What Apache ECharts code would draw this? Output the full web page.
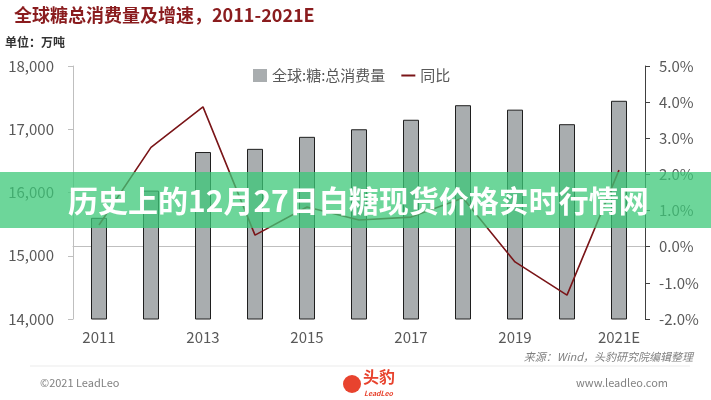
<!DOCTYPE html>
<html>
<head>
<meta charset="utf-8">
<script src="https://cdn.jsdelivr.net/npm/echarts@6/dist/echarts.min.js"></script>
<style>
  html, body { margin: 0; padding: 0; background: #fff; }
  #chart { width: 711px; height: 400px; }
</style>
</head>
<body>
<div id="chart"></div>
<script>
// 数据
const years = ["2011", "2012", "2013", "2014", "2015", "2016", "2017", "2018", "2019", "2020", "2021E"];
const consumption = [15600, 16030, 16640, 16690, 16880, 17000, 17150, 17380, 17310, 17080, 17450]; // 万吨
const yoy = [0.6, 2.75, 3.87, 0.32, 1.1, 0.74, 0.82, 1.35, -0.42, -1.34, 2.12]; // %
const seriesNames = ["全球:糖:总消费量", "同比"];

const font = "'Noto Sans CJK SC', 'Noto Sans', sans-serif";
const chart = echarts.init(document.getElementById("chart"));

const option = {
  backgroundColor: "#fff",
  textStyle: { fontFamily: font },
  grid: { left: 73, right: 66, top: 66, bottom: 81 },
  legend: {
    left: 248,
    top: 63,
    itemWidth: 14,
    itemHeight: 13,
    itemGap: 16,
    textStyle: { fontSize: 15, color: "#595959", fontFamily: font },
    data: [
      { name: seriesNames[0], icon: "rect", itemStyle: { borderWidth: 0, color: "#a9adaf" } },
      { name: seriesNames[1], icon: "path://M0,0 L14,0 L14,2 L0,2 Z", itemStyle: { color: "#7a1518" } },
    ],
  },
  xAxis: {
    type: "category",
    data: years,
    axisLine: { lineStyle: { color: "#bfbfbf" } },
    axisTick: { show: false },
    axisLabel: { interval: 1, fontSize: 15, color: "#595959", margin: 11 },
  },
  yAxis: [
    {
      type: "value",
      min: 14000,
      max: 18000,
      interval: 1000,
      axisLine: { show: true, lineStyle: { color: "#bfbfbf" } },
      axisTick: { show: true, length: 5, lineStyle: { color: "#bfbfbf" } },
      splitLine: { show: false },
      axisLabel: { fontSize: 15, color: "#595959", margin: 19 },
    },
    {
      type: "value",
      min: -2,
      max: 5,
      interval: 1,
      axisLine: { show: true, lineStyle: { color: "#404040" } },
      axisTick: { show: true, length: 5, lineStyle: { color: "#404040" } },
      splitLine: { show: false },
      axisLabel: {
        fontSize: 15,
        color: "#595959",
        margin: 14,
        formatter: (v) => v.toFixed(1) + "%",
      },
    },
  ],
  series: [
    {
      name: seriesNames[0],
      type: "bar",
      data: consumption,
      barWidth: 16,
      itemStyle: { color: "#a9adaf", borderColor: "#1f1f1f", borderWidth: 1 },
      z: 2,
    },
    {
      name: seriesNames[1],
      type: "line",
      yAxisIndex: 1,
      data: yoy,
      symbol: "none",
      lineStyle: { color: "#7a1518", width: 1.6 },
      itemStyle: { color: "#7a1518" },
      z: 3,
    },
  ],
  graphic: [
    // 标题
    {
      type: "text",
      left: 14,
      top: 6,
      style: {
        text: "全球糖总消费量及增速，2011-2021E",
        fontSize: 18,
        fontWeight: "bold",
        fill: "#8a1c1e",
        fontFamily: font,
      },
    },
    {
      type: "text",
      left: 5,
      top: 36,
      style: {
        text: "单位：万吨",
        fontSize: 12,
        fontWeight: "bold",
        fill: "#333",
        fontFamily: font,
      },
    },
    // 横幅
    {
      type: "rect",
      shape: { x: 0, y: 172, width: 711, height: 56 },
      style: { fill: "rgba(60,200,120,0.75)" },
      z: 100,
    },
    {
      type: "text",
      x: 68,
      y: 201,
      style: {
        text: "历史上的12月27日白糖现货价格实时行情网",
        fontSize: 30,
        fontWeight: "bold",
        fill: "#fff",
        verticalAlign: "middle",
        fontFamily: font,
      },
      z: 101,
    },
    // 底部
    {
      type: "text",
      x: 693,
      y: 357,
      style: {
        text: "来源：Wind，头豹研究院编辑整理",
        fontSize: 11,
        fontStyle: "italic",
        fill: "#808080",
        align: "right",
        verticalAlign: "middle",
        fontFamily: font,
      },
    },
    {
      type: "line",
      shape: { x1: 30, y1: 366, x2: 690, y2: 366 },
      style: { stroke: "#ebebeb", lineWidth: 1 },
    },
    {
      type: "text",
      x: 40,
      y: 383,
      style: { text: "©2021 LeadLeo", fontSize: 11, fill: "#808080", verticalAlign: "middle", fontFamily: font },
    },
    {
      type: "text",
      x: 668,
      y: 383,
      style: { text: "www.leadleo.com", fontSize: 11, fill: "#808080", align: "right", verticalAlign: "middle", fontFamily: font },
    },
    {
      type: "circle",
      shape: { cx: 352, cy: 384, r: 9 },
      style: { fill: "#e8432e" },
    },
    {
      type: "text",
      x: 363,
      y: 377,
      style: { text: "头豹", fontSize: 16, fontWeight: "bold", fill: "#e8432e", verticalAlign: "middle", fontFamily: font },
    },
    {
      type: "text",
      x: 364,
      y: 393,
      style: { text: "LeadLeo", fontSize: 7, fontStyle: "italic", fontWeight: "bold", fill: "#e8432e", verticalAlign: "middle", fontFamily: font },
    },
  ],
};

chart.setOption(option);
</script>
</body>
</html>
